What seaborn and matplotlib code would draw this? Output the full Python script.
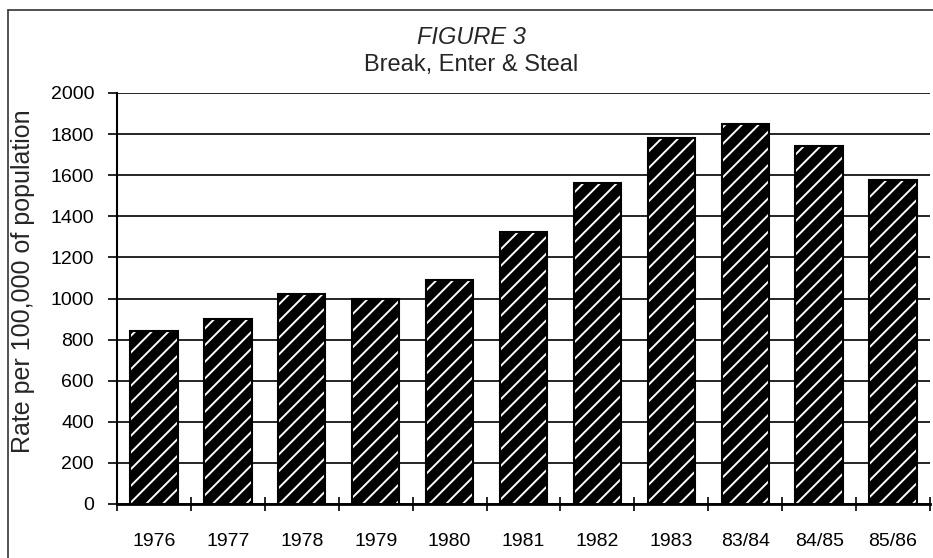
import matplotlib
matplotlib.use("Agg")
import matplotlib.pyplot as plt
from matplotlib.patches import Rectangle
from matplotlib.lines import Line2D
import seaborn as sns
import pandas as pd

# data
years = ["1976", "1977", "1978", "1979", "1980", "1981",
         "1982", "1983", "83/84", "84/85", "85/86"]
rates = [840, 900, 1020, 1000, 1090, 1325, 1560, 1780, 1850, 1740, 1575]

df = pd.DataFrame({"year": years, "rate": rates})

sns.set_style("white")
plt.rcParams["font.family"] = ["Liberation Sans", "DejaVu Sans"]
plt.rcParams["hatch.linewidth"] = 1.4

fig = plt.figure(figsize=(9.33, 5.58), dpi=100)
ax = fig.add_axes([117 / 933, 1 - 504 / 558, (930 - 117) / 933, (504 - 93) / 558])

sns.barplot(data=df, x="year", y="rate", ax=ax, color="black", width=0.64,
            edgecolor="white", linewidth=0, hatch="//", saturation=1, zorder=3)

# black outline around each hatched bar
for p in list(ax.patches):
    ax.add_patch(Rectangle(p.get_xy(), p.get_width(), p.get_height(), fill=False,
                           edgecolor="black", linewidth=1.5, zorder=4))

ax.set_xlim(-0.5, len(years) - 0.5)
ax.set_ylim(0, 2000)
ax.set_yticks(range(0, 2001, 200))
ax.yaxis.grid(True, color="black", linewidth=1.2, zorder=0)
ax.set_axisbelow(True)

for side in ["top", "right"]:
    ax.spines[side].set_visible(False)
ax.spines["left"].set_linewidth(1.5)
ax.spines["bottom"].set_linewidth(2)
ax.spines["left"].set_color("black")
ax.spines["bottom"].set_color("black")

ax.tick_params(axis="y", direction="out", length=6.5, width=1.2, pad=10,
               labelsize=14, left=True, colors="black")
ax.tick_params(axis="x", which="major", length=0, pad=21, labelsize=14, colors="black")
ax.set_xticks([i + 0.5 for i in range(-1, len(years))], minor=True)
ax.tick_params(axis="x", which="minor", direction="inout", length=10, width=1.2,
               bottom=True, color="black")

ax.set_xlabel("")
ax.set_ylabel("Rate per 100,000 of population", fontsize=18)
ax.yaxis.set_label_coords(-0.101, 0.543)

fig.text(0.505, 0.932, "FIGURE 3", ha="center", va="center", fontsize=17, style="italic")
fig.text(0.505, 0.884, "Break, Enter & Steal", ha="center", va="center", fontsize=17)

# page frame from the scan
fig.add_artist(Line2D([8 / 933, 1], [1 - 10 / 558, 1 - 10 / 558], transform=fig.transFigure,
                      color="#333333", linewidth=1.2))
fig.add_artist(Line2D([8 / 933, 8 / 933], [0, 1 - 10 / 558], transform=fig.transFigure,
                      color="#333333", linewidth=1.2))

fig.savefig("out.png", dpi=100)
